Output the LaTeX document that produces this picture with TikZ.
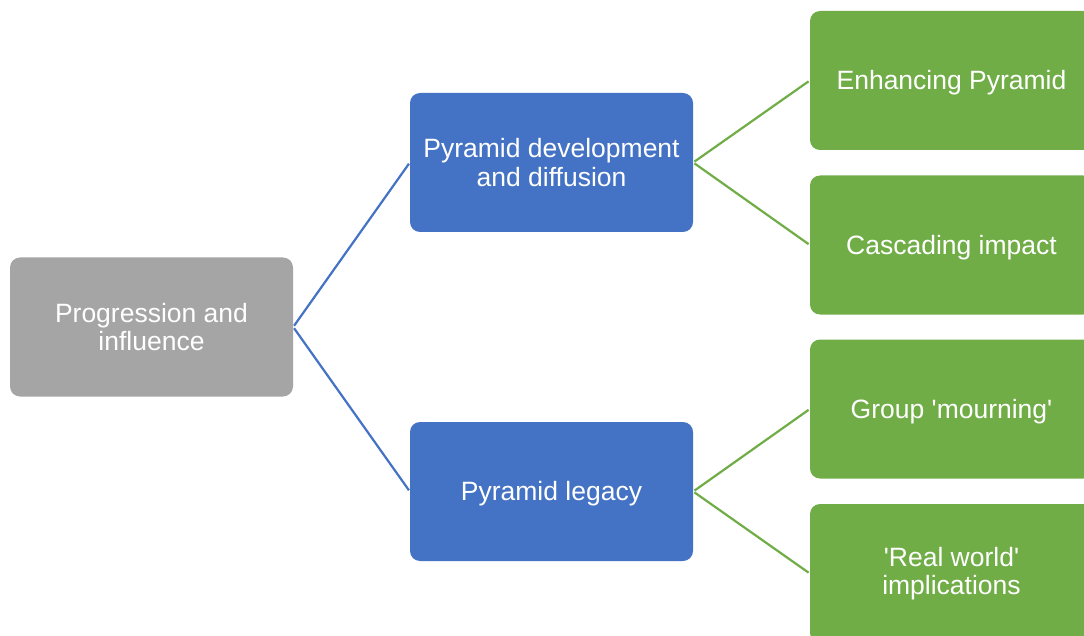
\documentclass[tikz,border=0pt]{standalone}
\usepackage{fontspec}
\setmainfont{Liberation Sans}
\definecolor{boxgray}{HTML}{A5A5A5}
\definecolor{boxblue}{HTML}{4472C4}
\definecolor{boxgreen}{HTML}{70AD47}
\newcommand{\sq}{\textquotesingle}
\begin{document}
\begin{tikzpicture}[x=1pt,y=-1pt,
  card/.style={rectangle, rounded corners=10pt, minimum width=283pt, minimum height=139pt,
    inner sep=0pt},
  cardtext/.style={text=white, align=center,
    font=\fontsize{26.5pt}{28.5pt}\selectfont},
  onelinetext/.style={cardtext, yshift=-2.5pt},
  rootcard/.style={card, fill=boxgray},
  midcard/.style={card, fill=boxblue},
  leafcard/.style={card, fill=boxgreen},
  bluelink/.style={draw=boxblue, line width=2.2pt, shorten <=1.5pt, shorten >=1.5pt},
  greenlink/.style={draw=boxgreen, line width=2.2pt, shorten <=1.5pt, shorten >=1.5pt}]
\useasboundingbox (0,0) rectangle (1084,636);
\clip (0,0) rectangle (1084,636);
\fill[white] (0,0) rectangle (1084,636);

\node[rootcard, label={[cardtext]center:Progression and\\influence}] (root) at (151.5,327) {};
\node[midcard, label={[cardtext]center:Pyramid development\\and diffusion}] (dev) at (551.5,162.5) {};
\node[midcard, label={[onelinetext]center:Pyramid legacy}] (leg) at (551.5,491.5) {};
\node[leafcard, label={[onelinetext]center:Enhancing Pyramid}] (enh) at (951.5,80.5) {};
\node[leafcard, label={[onelinetext]center:Cascading impact}] (cas) at (951.5,245) {};
\node[leafcard, label={[onelinetext]center:Group \sq mourning\sq}] (grp) at (951.5,409) {};
\node[leafcard, label={[cardtext]center:\sq Real world\sq\\implications}] (rw) at (951.5,573.5) {};

\draw[bluelink] (root.east) -- (dev.west);
\draw[bluelink] (root.east) -- (leg.west);
\draw[greenlink] (dev.east) -- (enh.west);
\draw[greenlink] (dev.east) -- (cas.west);
\draw[greenlink] (leg.east) -- (grp.west);
\draw[greenlink] (leg.east) -- (rw.west);
\end{tikzpicture}
\end{document}
